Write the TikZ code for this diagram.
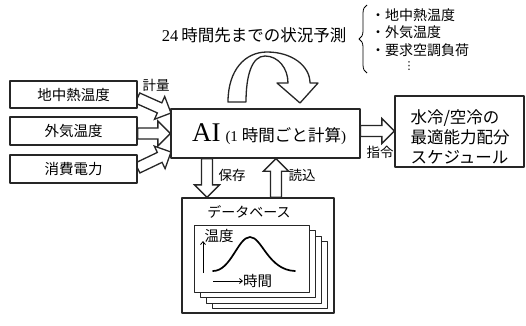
\documentclass[tikz,border=0pt]{standalone}
\usepackage{fontspec}
\setmainfont{Liberation Serif}
\newfontfamily\cjk{Noto Sans CJK JP}
\newfontfamily\dejavu{DejaVu Sans}
\usetikzlibrary{calc,decorations.pathreplacing,arrows.meta}
\pgfdeclarelayer{bg}
\pgfsetlayers{bg,main}
\newcommand{\blockarrow}[2]{\draw[blk] let \p1=(#1), \p2=(#2), \n1={atan2(\y2-\y1,\x2-\x1)}, \n2={veclen(\x2-\x1,\y2-\y1)} in [shift={(\p1)}, rotate=\n1] (0,-5.5) -- (\n2-12.5,-5.5) -- (\n2-12.5,-12.5) -- (\n2,0) -- (\n2-12.5,12.5) -- (\n2-12.5,5.5) -- (0,5.5) -- cycle;}
\begin{document}
\begin{tikzpicture}[x=1pt,y=-1pt,line join=round,
  box/.style={draw=black!85, line width=1.3pt, fill=white, inner sep=0pt},
  card/.style={draw=black!85, line width=0.8pt, fill=white, inner sep=0pt, minimum width=115pt, minimum height=67pt},
  blk/.style={draw=black!85, fill=white, line width=1.3pt},
  jp/.style={font=\cjk\fontsize{14}{16}\selectfont, inner sep=0pt},
  jpbox/.style={font=\cjk\fontsize{14.5}{16}\selectfont},
  lbl/.style={font=\cjk\fontsize{13.5}{16}\selectfont, inner sep=0pt}]
\useasboundingbox (0,0) rectangle (526,325);

% input boxes
\node[box, jpbox, minimum width=127pt, minimum height=27pt] (g1) at (73.5,94.5) {地中熱温度};
\node[box, jpbox, minimum width=127pt, minimum height=28pt] (g2) at (73.5,131) {外気温度};
\node[box, jpbox, minimum width=127pt, minimum height=28pt] (g3) at (73.5,169) {消費電力};

% AI box
\node[box, minimum width=189pt, minimum height=49pt] (ai) at (265.5,133.5) {};
\node[inner sep=0pt, anchor=base] (ait) at (269,141) {\fontsize{27}{27}\selectfont AI\hspace{5pt}\fontsize{15}{16}\selectfont(1\hspace{4pt}{\cjk\fontsize{16.5}{16}\selectfont 時間ごと計算})};

% output box
\node[box, minimum width=129pt, minimum height=71pt] (out) at (459.5,131.5) {};
\node[inner sep=0pt, align=left, font=\cjk\fontsize{16.5}{20}\selectfont] (outt) at (460,137) {水冷/空冷の\\最適能力配分\\スケジュール};

% database
\node[box, minimum width=152pt, minimum height=115pt] (db) at (258,255.5) {};
\node[jp] (dbt) at (249,212) {データベース};
\node[card] (c3) at (269.5,275) {};
\node[card] (c2) at (263.5,269.5) {};
\node[card] (c1) at (257.5,264) {};
\node[card] (c0) at (251.5,258.5) {};
\node[jp, font=\cjk\fontsize{14.5}{16}\selectfont] (ondo) at (219,236) {温度};
\coordinate (ua1) at (203,273);
\coordinate (ua2) at (203,241);
\draw[line width=0.8pt, -{Straight Barb[length=3pt,width=5pt]}] (ua1) -- (ua2);
\draw[line width=1.7pt, line cap=round] (213,271) .. controls (231,271) and (238,237) .. (250,237) .. controls (262,237) and (268,270) .. (295,271);
\node[jp, anchor=west, font=\cjk\fontsize{14.5}{16}\selectfont] (jikan) at (243,281) {時間};
\coordinate (ra1) at (213,281);
\draw[line width=0.8pt, -{Straight Barb[length=3pt,width=5pt]}] (ra1) -- (jikan.west);

% block arrows on background
\coordinate (a1s) at (137.5,98);
\coordinate (a1e) at (171,113);
\coordinate (a2s) at (g2.east |- ai.center);
\coordinate (a2e) at (ai.west);
\coordinate (a3s) at (137.5,168);
\coordinate (a3e) at (171,152);
\coordinate (a4s) at (360.5,131);
\coordinate (a4e) at (out.west |- a4s);
\coordinate (a5s) at ($(ai.south)+(-58.5,0)$);
\coordinate (a5e) at (a5s |- db.north);
\coordinate (a6s) at ($(db.north)+(18,0)$);
\coordinate (a6e) at (a6s |- ai.south);
\begin{pgfonlayer}{bg}
\blockarrow{a1s}{a1e}
\blockarrow{a2s}{a2e}
\blockarrow{a3s}{a3e}
\blockarrow{a4s}{a4e}
\blockarrow{a5s}{a5e}
\blockarrow{a6s}{a6e}
\end{pgfonlayer}

% labels
\node[lbl] (keiryo) at (156,85) {計量};
\node[lbl] (shirei) at (380,152) {指令};
\node[lbl] (hozon) at (232,175) {保存};
\node[lbl] (yomi) at (302,175) {読込};

% curved arrow
\draw[line width=1.3pt, fill=white, draw=black!85] (228,102) .. controls (228,70) and (245,52) .. (267,52) .. controls (292,52) and (310,66) .. (310,83) -- (318,83) -- (300,103) -- (277,83) -- (288,83) .. controls (288,68) and (278,56) .. (265,56) .. controls (252,56) and (246,75) .. (246,102) -- cycle;

% forecast text
\node[inner sep=0pt] (fc) at (254,35) {\fontsize{16.5}{18}\selectfont 24\hspace{3pt}{\cjk 時間先までの状況予測}};
\coordinate (br1) at (367,73);
\coordinate (br2) at (367,5);
\draw[decorate, decoration={brace, amplitude=8pt}, line width=0.8pt] (br1) -- (br2);
\node[lbl, anchor=west, font=\cjk\fontsize{14}{16}\selectfont] (i1) at (371,15) {・地中熱温度};
\node[lbl, anchor=west, font=\cjk\fontsize{14}{16}\selectfont] (i2) at (371,32) {・外気温度};
\node[lbl, anchor=west, font=\cjk\fontsize{14}{16}\selectfont] (i3) at (371,50) {・要求空調負荷};
\node[inner sep=0pt, font=\dejavu\fontsize{11}{12}\selectfont] (dots) at (409,66) {⋮};
\end{tikzpicture}
\end{document}
